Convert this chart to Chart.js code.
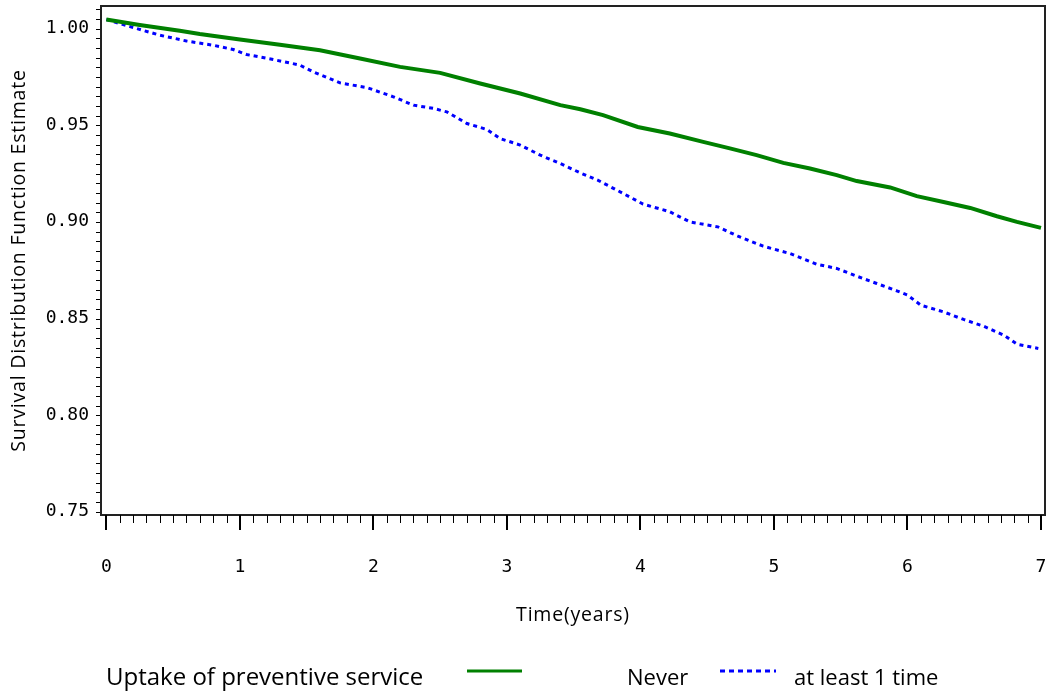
<!DOCTYPE html>
<html lang="en">
<head>
<meta charset="UTF-8">
<title>Survival by uptake of preventive service</title>
<script src="https://cdn.jsdelivr.net/npm/chart.js@4"></script>
<style>
  html, body { margin: 0; padding: 0; background: #fff; }
</style>
</head>
<body>
<canvas id="chart" width="1048" height="694"></canvas>
<script>
// survival estimates (time in years)
const neverYears = [0, 0.25, 0.55, 0.70, 1.00, 1.30, 1.60, 1.90, 2.20, 2.50, 2.80, 3.10, 3.40, 3.55, 3.72, 3.98, 4.22, 4.47, 4.67, 4.87, 5.07, 5.27, 5.47, 5.62, 5.87, 6.07, 6.27, 6.47, 6.67, 6.82, 7.00];
const neverSurv  = [1.000, 0.9972, 0.9942, 0.9925, 0.9897, 0.9869, 0.9841, 0.9798, 0.9755, 0.9724, 0.9669, 0.9617, 0.9557, 0.9536, 0.9505, 0.9444, 0.9410, 0.9367, 0.9333, 0.9298, 0.9258, 0.9229, 0.9195, 0.9164, 0.9131, 0.9086, 0.9056, 0.9025, 0.8982, 0.8953, 0.8922];

const onceYears = [0, 0.20, 0.40, 0.60, 0.80, 0.95, 1.05, 1.25, 1.45, 1.55, 1.75, 1.95, 2.15, 2.30, 2.45, 2.55, 2.70, 2.85, 2.95, 3.10, 3.25, 3.40, 3.55, 3.68, 3.87, 4.02, 4.22, 4.37, 4.58, 4.73, 4.92, 5.12, 5.32, 5.47, 5.62, 5.77, 5.92, 6.00, 6.10, 6.27, 6.42, 6.57, 6.72, 6.82, 6.98];
const onceSurv  = [1.000, 0.9959, 0.9919, 0.9889, 0.9867, 0.9845, 0.9819, 0.9793, 0.9764, 0.9729, 0.9672, 0.9648, 0.9600, 0.9557, 0.9540, 0.9522, 0.9462, 0.9431, 0.9384, 0.9350, 0.9298, 0.9255, 0.9206, 0.9169, 0.9100, 0.9045, 0.9005, 0.8953, 0.8927, 0.8879, 0.8827, 0.8789, 0.8734, 0.8712, 0.8672, 0.8634, 0.8596, 0.8574, 0.8522, 0.8487, 0.8448, 0.8413, 0.8367, 0.8320, 0.8298];

const seriesNames = ['Never', 'at least 1 time'];
const yTickLabels = [0.75, 0.80, 0.85, 0.90, 0.95, 1.00];
const xTickLabels = [0, 1, 2, 3, 4, 5, 6, 7];
const xTitle = 'Time(years)';
const yTitle = 'Survival Distribution Function Estimate';
const legendTitle = 'Uptake of preventive service';

const toPoints = (xs, ys) => xs.map((x, i) => ({ x: x, y: ys[i] }));

// minor/major tick marks below the time axis, frame on top/right, axis titles
const axisMarks = {
  id: 'axisMarks',
  afterDraw(chart) {
    const { ctx, chartArea, scales } = chart;
    const xs = scales.x;
    ctx.save();
    ctx.strokeStyle = '#000';
    for (let i = 0; i <= xTickLabels[xTickLabels.length - 1] * 10; i++) {
      const major = i % 10 === 0;
      const px = Math.round(xs.getPixelForValue(i / 10));
      ctx.lineWidth = major ? 2 : 1;
      ctx.beginPath();
      ctx.moveTo(major ? px : px + 0.5, chartArea.bottom);
      ctx.lineTo(major ? px : px + 0.5, chartArea.bottom + (major ? 15 : 8));
      ctx.stroke();
    }
    ctx.strokeStyle = '#222';
    ctx.lineWidth = 2;
    ctx.beginPath();
    ctx.moveTo(chartArea.left, chartArea.top);
    ctx.lineTo(chartArea.right, chartArea.top);
    ctx.lineTo(chartArea.right, chartArea.bottom);
    ctx.stroke();

    // titles (slightly spaced, like the original export)
    ctx.fillStyle = '#000';
    ctx.font = '19.5px "Open Sans"';
    ctx.letterSpacing = '0.8px';
    ctx.textAlign = 'center';
    ctx.textBaseline = 'middle';
    ctx.fillText(xTitle, (chartArea.left + chartArea.right) / 2, 615);
    ctx.translate(19, (chartArea.top + chartArea.bottom) / 2);
    ctx.rotate(-Math.PI / 2);
    ctx.fillText(yTitle, 0, 0);
    ctx.restore();
  }
};

// legend row at the bottom
const bottomLegend = {
  id: 'bottomLegend',
  afterDraw(chart) {
    const ctx = chart.ctx;
    const ds = chart.data.datasets;
    ctx.save();
    ctx.fillStyle = '#000';
    ctx.textBaseline = 'alphabetic';
    ctx.font = '24px "Open Sans"';
    ctx.fillText(legendTitle, 106, 685);

    ctx.font = '22px "Open Sans"';
    ctx.lineWidth = 3;
    ctx.strokeStyle = ds[0].borderColor;
    ctx.beginPath();
    ctx.moveTo(467, 671);
    ctx.lineTo(522, 671);
    ctx.stroke();
    ctx.fillText(ds[0].label, 627, 685);

    ctx.strokeStyle = ds[1].borderColor;
    ctx.setLineDash([5, 4]);
    ctx.beginPath();
    ctx.moveTo(720, 671);
    ctx.lineTo(776, 671);
    ctx.stroke();
    ctx.setLineDash([]);
    ctx.fillText(ds[1].label, 794, 685);
    ctx.restore();
  }
};

new Chart(document.getElementById('chart'), {
  type: 'line',
  data: {
    datasets: [
      {
        label: seriesNames[0],
        data: toPoints(neverYears, neverSurv),
        borderColor: '#008000',
        borderWidth: 4,
        pointRadius: 0,
        fill: false
      },
      {
        label: seriesNames[1],
        data: toPoints(onceYears, onceSurv),
        borderColor: '#0000ff',
        borderWidth: 3,
        borderDash: [4, 4],
        pointRadius: 0,
        fill: false
      }
    ]
  },
  options: {
    responsive: false,
    animation: false,
    devicePixelRatio: 1,
    layout: { padding: { top: 6, right: 3, left: 0, bottom: 0 } },
    plugins: {
      legend: { display: false },
      tooltip: { enabled: false }
    },
    scales: {
      x: {
        type: 'linear',
        min: -0.04,
        max: 7.03,
        afterFit: s => { s.height = 179; s.paddingLeft = 0; s.paddingRight = 0; },
        grid: { display: false, drawTicks: true, tickLength: 39 },
        border: { display: true, color: '#222', width: 2 },
        ticks: {
          stepSize: 1,
          includeBounds: false,
          autoSkip: false,
          maxRotation: 0,
          padding: 3,
          color: '#000',
          font: { family: 'DejaVu Sans Mono', size: 18 },
          callback: v => xTickLabels.includes(v) ? String(v) : ''
        }
      },
      y: {
        type: 'linear',
        min: 0.7436,
        max: 1.007,
        afterFit: s => { s.width = 101; s.paddingTop = 0; s.paddingBottom = 0; },
        grid: { drawOnChartArea: false, drawTicks: true, tickLength: 5, color: '#000', lineWidth: 1 },
        border: { display: true, color: '#222', width: 2 },
        ticks: {
          stepSize: 0.005,
          includeBounds: false,
          autoSkip: false,
          maxTicksLimit: 1000,
          padding: 7,
          labelOffset: 9,
          color: '#000',
          font: { family: 'DejaVu Sans Mono', size: 18 },
          callback: v => yTickLabels.some(l => Math.abs(l - v) < 1e-9) ? v.toFixed(2) : ''
        }
      }
    }
  },
  plugins: [axisMarks, bottomLegend]
});
</script>
</body>
</html>
